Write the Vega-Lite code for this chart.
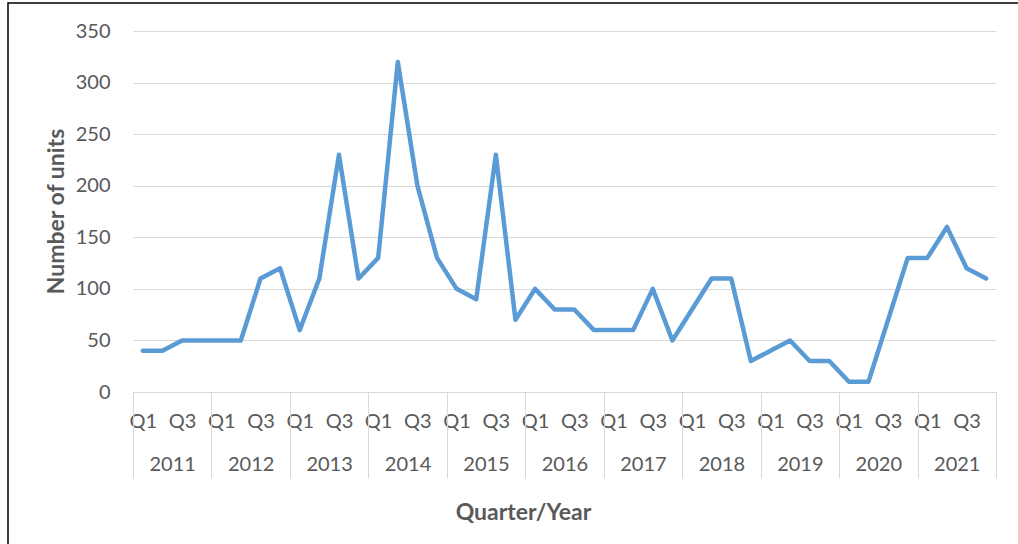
{
  "$schema": "https://vega.github.io/schema/vega-lite/v6.json",
  "autosize": {"type": "none"},
  "padding": {"left": 8, "top": 3, "right": -4, "bottom": -4},
  "width": 1014,
  "height": 545,
  "background": "white",
  "config": {
    "view": {"stroke": "black", "strokeWidth": 1.5},
    "font": "Lato",
    "axis": {"labelFont": "Lato", "titleFont": "Lato", "labelColor": "#595959", "titleColor": "#595959"}
  },
  "data": {
    "values": [
      {"i": 0, "year": 2011, "quarter": "Q1", "units": 40},
      {"i": 1, "year": 2011, "quarter": "Q2", "units": 40},
      {"i": 2, "year": 2011, "quarter": "Q3", "units": 50},
      {"i": 3, "year": 2011, "quarter": "Q4", "units": 50},
      {"i": 4, "year": 2012, "quarter": "Q1", "units": 50},
      {"i": 5, "year": 2012, "quarter": "Q2", "units": 50},
      {"i": 6, "year": 2012, "quarter": "Q3", "units": 110},
      {"i": 7, "year": 2012, "quarter": "Q4", "units": 120},
      {"i": 8, "year": 2013, "quarter": "Q1", "units": 60},
      {"i": 9, "year": 2013, "quarter": "Q2", "units": 110},
      {"i": 10, "year": 2013, "quarter": "Q3", "units": 230},
      {"i": 11, "year": 2013, "quarter": "Q4", "units": 110},
      {"i": 12, "year": 2014, "quarter": "Q1", "units": 130},
      {"i": 13, "year": 2014, "quarter": "Q2", "units": 320},
      {"i": 14, "year": 2014, "quarter": "Q3", "units": 200},
      {"i": 15, "year": 2014, "quarter": "Q4", "units": 130},
      {"i": 16, "year": 2015, "quarter": "Q1", "units": 100},
      {"i": 17, "year": 2015, "quarter": "Q2", "units": 90},
      {"i": 18, "year": 2015, "quarter": "Q3", "units": 230},
      {"i": 19, "year": 2015, "quarter": "Q4", "units": 70},
      {"i": 20, "year": 2016, "quarter": "Q1", "units": 100},
      {"i": 21, "year": 2016, "quarter": "Q2", "units": 80},
      {"i": 22, "year": 2016, "quarter": "Q3", "units": 80},
      {"i": 23, "year": 2016, "quarter": "Q4", "units": 60},
      {"i": 24, "year": 2017, "quarter": "Q1", "units": 60},
      {"i": 25, "year": 2017, "quarter": "Q2", "units": 60},
      {"i": 26, "year": 2017, "quarter": "Q3", "units": 100},
      {"i": 27, "year": 2017, "quarter": "Q4", "units": 50},
      {"i": 28, "year": 2018, "quarter": "Q1", "units": 80},
      {"i": 29, "year": 2018, "quarter": "Q2", "units": 110},
      {"i": 30, "year": 2018, "quarter": "Q3", "units": 110},
      {"i": 31, "year": 2018, "quarter": "Q4", "units": 30},
      {"i": 32, "year": 2019, "quarter": "Q1", "units": 40},
      {"i": 33, "year": 2019, "quarter": "Q2", "units": 50},
      {"i": 34, "year": 2019, "quarter": "Q3", "units": 30},
      {"i": 35, "year": 2019, "quarter": "Q4", "units": 30},
      {"i": 36, "year": 2020, "quarter": "Q1", "units": 10},
      {"i": 37, "year": 2020, "quarter": "Q2", "units": 10},
      {"i": 38, "year": 2020, "quarter": "Q3", "units": 70},
      {"i": 39, "year": 2020, "quarter": "Q4", "units": 130},
      {"i": 40, "year": 2021, "quarter": "Q1", "units": 130},
      {"i": 41, "year": 2021, "quarter": "Q2", "units": 160},
      {"i": 42, "year": 2021, "quarter": "Q3", "units": 120},
      {"i": 43, "year": 2021, "quarter": "Q4", "units": 110}
    ]
  },
  "layer": [
    {
      "mark": {"type": "line", "color": "#5b9bd5", "strokeWidth": 4.5, "strokeJoin": "round", "strokeCap": "round"},
      "encoding": {
        "x": {
          "field": "i", "type": "quantitative",
          "scale": {"domain": [-0.5, 43.5], "range": [125, 988], "nice": false, "zero": false},
          "axis": {
            "orient": "bottom", "offset": -156,
            "values": [0, 2, 4, 6, 8, 10, 12, 14, 16, 18, 20, 22, 24, 26, 28, 30, 32, 34, 36, 38, 40, 42],
            "labelExpr": "datum.value % 4 == 0 ? 'Q1' : 'Q3'",
            "labelFontSize": 20, "labelBaseline": "middle", "labelPadding": 29,
            "labelFlush": false, "labelOverlap": false, "labelBound": false,
            "ticks": false, "tickSize": 0, "grid": false,
            "domain": true, "domainColor": "#d9d9d9", "domainWidth": 1,
            "title": "Quarter/Year", "titleFontSize": 23, "titleFontWeight": "bold",
            "titleX": 515, "titleY": 120, "titleAlign": "center", "titleBaseline": "middle"
          }
        },
        "y": {
          "field": "units", "type": "quantitative",
          "scale": {"domain": [0, 350], "range": [389, 28], "nice": false, "zero": true},
          "axis": {
            "orient": "left", "offset": -125,
            "values": [0, 50, 100, 150, 200, 250, 300, 350],
            "labelFontSize": 20, "labelPadding": 23, "labelAlign": "right", "labelBaseline": "middle",
            "ticks": false, "tickSize": 0, "domain": false,
            "grid": true, "gridColor": "#d9d9d9", "gridWidth": 1,
            "title": "Number of units", "titleFontSize": 23, "titleFontWeight": "bold",
            "titleX": -77, "titleY": 208, "titleAngle": -90, "titleAlign": "center", "titleBaseline": "middle"
          }
        }
      }
    },
    {
      "mark": {"type": "point", "opacity": 0},
      "encoding": {
        "x": {
          "field": "i", "type": "quantitative",
          "scale": {"domain": [-0.5, 43.5], "range": [125, 988], "nice": false, "zero": false},
          "axis": {
            "orient": "bottom", "offset": -156,
            "values": [-0.5, 3.5, 7.5, 11.5, 15.5, 19.5, 23.5, 27.5, 31.5, 35.5, 39.5, 43.5],
            "labelExpr": "datum.value < 43 ? '' + (2011 + (datum.value + 0.5) / 4) : ''",
            "labelFontSize": 20, "labelBaseline": "middle", "labelPadding": -14, "labelOffset": 39.2,
            "labelFlush": false, "labelOverlap": false, "labelBound": false,
            "ticks": true, "tickSize": 86, "tickColor": "#d9d9d9", "tickWidth": 1,
            "grid": false, "domain": false, "title": null
          }
        }
      }
    }
  ],
  "resolve": {"scale": {"x": "independent"}, "axis": {"x": "independent"}}
}
